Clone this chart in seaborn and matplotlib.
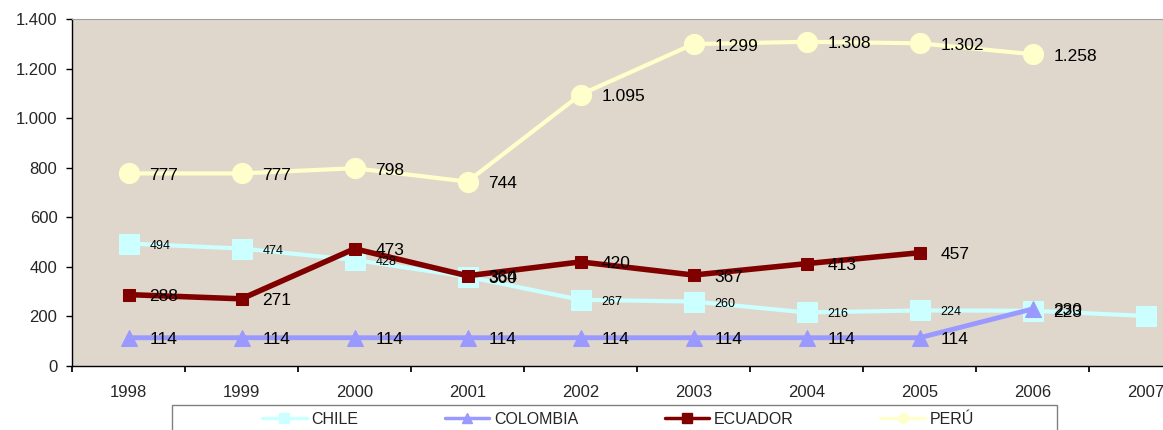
import matplotlib
matplotlib.use("Agg")
import matplotlib.pyplot as plt
import seaborn as sns
import numpy as np
import pandas as pd
from matplotlib.ticker import FuncFormatter, FixedLocator
from matplotlib.patches import Rectangle
from matplotlib.lines import Line2D

years = ["1998", "1999", "2000", "2001", "2002", "2003", "2004", "2005", "2006", "2007"]
chile = [494, 474, 428, 360, 267, 260, 216, 224, 223, 202]
colombia = [114, 114, 114, 114, 114, 114, 114, 114, 230, None]
ecuador = [288, 271, 473, 364, 420, 367, 413, 457, None, None]
peru = [777, 777, 798, 744, 1095, 1299, 1308, 1302, 1258, None]
# Chile label visibility / large-label flags (as seen in the reference)
chile_labels = [True, True, True, True, True, True, True, True, True, False]
chile_big = [False, False, False, True, False, False, False, False, True, False]

sns.set_theme(style="white")
plt.rcParams['font.family'] = ['Liberation Sans', 'DejaVu Sans']

fig = plt.figure(figsize=(11.63, 4.30), dpi=100)
ax = fig.add_axes([72/1163, 64/430, 1130/1163, 347/430])
ax.set_facecolor("#DFD7CB")

def fmt(v):
    return f"{int(v):,}".replace(",", ".")

series = [
    ("CHILE", chile, "#CCFFFF", "s", 14, 3, 9),
    ("COLOMBIA", colombia, "#9999FF", "^", 12, 3.5, 12.5),
    ("ECUADOR", ecuador, "#800000", "s", 9, 4, 12.5),
    ("PERÚ", peru, "#FFFFCC", "o", 14.5, 3, 12.5),
]

for name, vals, col, mk, ms, lw, fs in series:
    df = pd.DataFrame({"x": np.arange(len(years)), "y": vals}).dropna()
    sns.lineplot(data=df, x="x", y="y", ax=ax, color=col, marker=mk, markersize=ms,
                 markeredgecolor=col, linewidth=lw, zorder=3, legend=False)
    for i, v in zip(df["x"], df["y"]):
        size = fs
        if name == "CHILE":
            if not chile_labels[int(i)]:
                continue
            if chile_big[int(i)]:
                size = 12.5
        ax.annotate(fmt(v), (i, v), xytext=(21, -2), textcoords="offset pixels",
                    ha="left", va="center", fontsize=size, color="black", zorder=5)

ax.set_xlim(-0.5, 9.5)
ax.set_ylim(0, 1400)
ax.set_yticks(np.arange(0, 1401, 200))
ax.yaxis.set_major_formatter(FuncFormatter(lambda v, p: fmt(v)))
ax.xaxis.set_major_locator(FixedLocator(np.arange(-0.5, 10, 1)))
ax.xaxis.set_minor_locator(FixedLocator(np.arange(0, 10, 1)))
ax.set_xticklabels([])
ax.set_xticklabels(years, minor=True)
ax.tick_params(axis="x", which="major", length=4.5, direction="out", color="black", bottom=True)
ax.tick_params(axis="x", which="minor", length=0, pad=14, labelsize=12)
ax.tick_params(axis="y", length=4.5, width=1, direction="out", color="black", left=True,
               labelsize=12, pad=6)
ax.set_xlabel("")
ax.set_ylabel("")
for s in ["left", "bottom"]:
    ax.spines[s].set_color("black")
    ax.spines[s].set_linewidth(1)
ax.spines["top"].set_color("#A0A0A0")
ax.spines["top"].set_linewidth(0.8)
ax.spines["right"].set_visible(False)

# legend frame
fig.patches.append(Rectangle((172/1163, -5/430), 885/1163, 30/430, transform=fig.transFigure,
                             facecolor="white", edgecolor="#808080", linewidth=1, zorder=0))
handles = [Line2D([], [], color=c, marker=m, markersize=7, markeredgecolor=c, linewidth=2.5)
           for (_, _, c, m, _, _, _) in series]
labels = [s[0] for s in series]
leg = fig.legend(handles, labels, loc="center", bbox_to_anchor=(618/1163, 1 - 419/430),
                 ncol=4, frameon=False, fontsize=11.5, handlelength=2.8, handletextpad=0.3,
                 columnspacing=5.4, borderaxespad=0)

fig.savefig("out.png", dpi=100)
